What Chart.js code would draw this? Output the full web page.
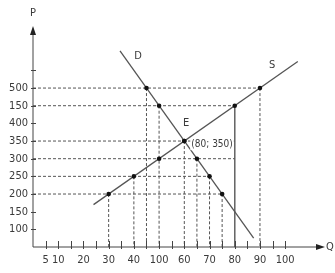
<!DOCTYPE html>
<html>
<head>
<meta charset="utf-8">
<script src="https://cdn.jsdelivr.net/npm/chart.js@4.4.1/dist/chart.umd.min.js"></script>
<style>
  html, body { margin: 0; padding: 0; background: #fff; }
  #wrap { width: 335px; height: 273px; }
</style>
</head>
<body>
<div id="wrap"><canvas id="sdChart"></canvas></div>
<script>
// supply and demand points (Q, P)
const supplyQ = [30, 40, 50, 60, 80, 90];
const supplyP = [200, 250, 300, 350, 450, 500];
const demandQ = [45, 50, 60, 65, 70, 75];
const demandP = [500, 450, 350, 300, 250, 200];

// ends of the two straight lines
const supplyLineQ = [24, 105];
const supplyLineP = [170, 575];
const demandLineQ = [34.5, 87.5];
const demandLineP = [605, 75];

// dashed guides: price level -> quantity where it stops
const guideP = [500, 450, 350, 300, 250, 200];
const guideEndQ = [90, 80, 80, 80, 70, 75];
// dashed drops to the Q axis
const dropQ = [30, 40, 45, 50, 60, 65, 70, 75, 90];
const dropP = [200, 250, 500, 450, 350, 300, 250, 200, 500];
// solid drop
const solidDropQ = [80];
const solidDropP = [450];

// tick labels as printed
const xTickValues = [5, 10, 15, 20, 25, 30, 35, 40, 45, 50, 55, 60, 65, 70, 75, 80, 85, 90, 95, 100];
const xTickLabels = ['5', '10', '', '20', '', '30', '', '40', '', '100', '', '60', '', '70', '', '80', '', '90', '', '100'];
const yTickValues = [100, 150, 200, 250, 300, 350, 400, 450, 500, 550];
const yTickLabels = ['100', '150', '200', '250', '300', '350', '400', '150', '500', ''];

const ink = '#3a3a3a';
const font = '"Liberation Sans Narrow", "DejaVu Sans Condensed", "Liberation Sans", sans-serif';

const pts = (qs, ps) => qs.map((q, i) => ({ x: q, y: ps[i] }));

const guideSets = [];
guideP.forEach((p, i) => {
    guideSets.push({ data: [{ x: 0, y: p }, { x: guideEndQ[i], y: p }], dash: true });
});
dropQ.forEach((q, i) => {
    guideSets.push({ data: [{ x: q, y: dropP[i] }, { x: q, y: 50 }], dash: true });
});
solidDropQ.forEach((q, i) => {
    guideSets.push({ data: [{ x: q, y: solidDropP[i] }, { x: q, y: 50 }], dash: false });
});

const datasets = [
    { data: pts(supplyQ, supplyP).concat(pts(demandQ, demandP)), showLine: false,
      pointRadius: 2.3, pointBackgroundColor: '#111', pointBorderWidth: 0 },
    { data: pts(supplyLineQ, supplyLineP), showLine: true, pointRadius: 0,
      borderColor: '#555', borderWidth: 1.3 },
    { data: pts(demandLineQ, demandLineP), showLine: true, pointRadius: 0,
      borderColor: '#555', borderWidth: 1.3 }
].concat(guideSets.map(g => ({
    data: g.data, showLine: true, pointRadius: 0,
    borderColor: g.dash ? '#555' : '#666', borderWidth: 1, borderDash: g.dash ? [3, 2] : []
})));

// axes with arrows, tick marks and the letters
const diagramPlugin = {
    id: 'diagram',
    afterDatasetsDraw(chart) {
        const { ctx, scales: { x, y } } = chart;
        const x0 = x.getPixelForValue(0);
        const y0 = y.getPixelForValue(50);
        const yTop = chart.chartArea.top;
        const xEnd = chart.chartArea.right;
        ctx.save();
        ctx.strokeStyle = '#444';
        ctx.fillStyle = '#222';
        ctx.lineWidth = 1;
        ctx.beginPath();
        ctx.moveTo(x0, y0);
        ctx.lineTo(x0, yTop + 4);
        ctx.moveTo(x0, y0);
        ctx.lineTo(xEnd - 4, y0);
        ctx.stroke();
        // arrow heads
        ctx.beginPath();
        ctx.moveTo(x0, yTop - 2);
        ctx.lineTo(x0 - 3, yTop + 7);
        ctx.lineTo(x0 + 3, yTop + 7);
        ctx.closePath();
        ctx.fill();
        ctx.beginPath();
        ctx.moveTo(xEnd + 2, y0);
        ctx.lineTo(xEnd - 7, y0 - 3);
        ctx.lineTo(xEnd - 7, y0 + 3);
        ctx.closePath();
        ctx.fill();
        // tick marks
        ctx.beginPath();
        xTickValues.forEach(v => {
            const px = Math.round(x.getPixelForValue(v)) + 0.5;
            ctx.moveTo(px, y0 - 6);
            ctx.lineTo(px, y0 + 2);
        });
        yTickValues.forEach(v => {
            const py = Math.round(y.getPixelForValue(v)) + 0.5;
            ctx.moveTo(x0 - 2, py);
            ctx.lineTo(x0 + 3, py);
        });
        ctx.stroke();

        ctx.fillStyle = ink;
        ctx.font = '11px ' + font;
        ctx.textAlign = 'center';
        ctx.textBaseline = 'middle';
        ctx.fillText('P', x0, 13);
        ctx.textAlign = 'left';
        ctx.fillText('Q', xEnd + 3, y0);
        ctx.textAlign = 'center';
        ctx.fillText('D', x.getPixelForValue(41.7), y.getPixelForValue(589));
        ctx.fillText('S', x.getPixelForValue(94.8), y.getPixelForValue(566));
        ctx.fillText('E', x.getPixelForValue(60.7), y.getPixelForValue(401));
        ctx.font = '10px ' + font;
        const lx = x.getPixelForValue(71), ly = y.getPixelForValue(341);
        const label = '(80; 350)';
        const w = ctx.measureText(label).width;
        ctx.fillStyle = '#fff';
        ctx.fillRect(lx - w / 2 - 1, ly - 6, w + 2, 12);
        ctx.fillStyle = ink;
        ctx.fillText(label, lx, ly);
        ctx.restore();
    }
};

new Chart(document.getElementById('sdChart').getContext('2d'), {
    type: 'scatter',
    data: { datasets: datasets },
    options: {
        responsive: true,
        maintainAspectRatio: false,
        animation: false,
        layout: { padding: { top: 28, right: 12, left: 0, bottom: 0 } },
        plugins: {
            legend: { display: false },
            tooltip: { enabled: false }
        },
        scales: {
            x: {
                type: 'linear',
                min: 0,
                max: 115,
                grid: { display: false, drawTicks: false },
                border: { display: false },
                afterBuildTicks: s => { s.ticks = xTickValues.map(v => ({ value: v })); },
                afterFit: s => { s.height = 26; },
                ticks: {
                    autoSkip: false,
                    maxRotation: 0,
                    padding: 7,
                    color: ink,
                    font: { family: font, size: 11 },
                    callback: v => xTickLabels[xTickValues.indexOf(v)]
                }
            },
            y: {
                type: 'linear',
                min: 50,
                max: 670,
                grid: { display: false, drawTicks: false },
                border: { display: false },
                afterBuildTicks: s => { s.ticks = yTickValues.map(v => ({ value: v })); },
                afterFit: s => { s.width = 33; },
                ticks: {
                    autoSkip: false,
                    padding: 5,
                    color: ink,
                    font: { family: font, size: 11 },
                    callback: v => yTickLabels[yTickValues.indexOf(v)]
                }
            }
        }
    },
    plugins: [diagramPlugin]
});
</script>
</body>
</html>
